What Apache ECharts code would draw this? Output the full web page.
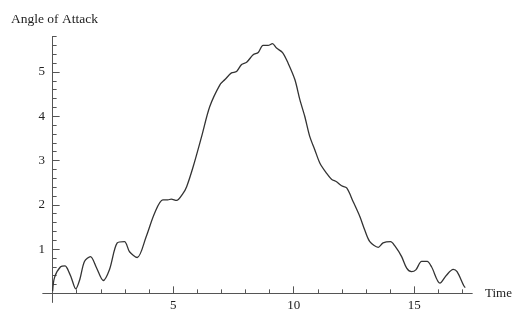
<!DOCTYPE html>
<html>
<head>
<meta charset="utf-8">
<script src="https://cdn.jsdelivr.net/npm/echarts@6/dist/echarts.min.js"></script>
<style>
    html, body { margin: 0; padding: 0; background: #fff; }
    #main { width: 514px; height: 309px; }
</style>
</head>
<body>
<div id="main"></div>
<script>
// values
let times = [0, 0.08, 0.33, 0.52, 0.60, 0.77, 0.96, 1.13, 1.32, 1.57,
    1.81, 2.10, 2.36, 2.68, 2.98, 3.19, 3.51, 3.88, 4.23, 4.57,
    4.78, 4.92, 5.14, 5.41, 5.56, 5.83, 6.18, 6.52, 6.94, 7.15,
    7.42, 7.63, 7.84, 8.05, 8.32, 8.53, 8.73, 8.94, 9.12, 9.29,
    9.54, 9.77, 10.05, 10.26, 10.46, 10.67, 10.88, 11.09, 11.37, 11.57,
    11.78, 11.99, 12.20, 12.47, 12.75, 12.95, 13.16, 13.51, 13.71, 14.02,
    14.20, 14.48, 14.69, 14.89, 15.07, 15.31, 15.54, 15.72, 16.07, 16.34,
    16.62, 16.78, 17.06, 17.12];
let angles = [0.05, 0.36, 0.60, 0.62, 0.57, 0.36, 0.10, 0.32, 0.72, 0.83,
    0.59, 0.29, 0.54, 1.14, 1.17, 0.94, 0.81, 1.28, 1.81, 2.11,
    2.11, 2.13, 2.10, 2.26, 2.41, 2.86, 3.54, 4.22, 4.71, 4.83,
    4.98, 5.01, 5.17, 5.22, 5.39, 5.44, 5.60, 5.60, 5.64, 5.54,
    5.44, 5.20, 4.83, 4.37, 4.00, 3.54, 3.24, 2.94, 2.71, 2.58,
    2.52, 2.43, 2.38, 2.07, 1.73, 1.43, 1.17, 1.04, 1.14, 1.17,
    1.07, 0.83, 0.57, 0.49, 0.53, 0.72, 0.72, 0.60, 0.23, 0.41,
    0.54, 0.49, 0.17, 0.13];

let xLabels = [5, 10, 15];
let yLabels = [1, 2, 3, 4, 5];

let xMinor = [];
for (let i = 1; i <= 17; i++) xMinor.push(i);
let yMinor = [];
for (let i = 1; i <= 29; i++) yMinor.push(Math.round(i * 2) / 10);

let points = times.map((t, i) => [t, angles[i]]);

let chartDom = document.getElementById('main');
let myChart = echarts.init(chartDom);

let font = 'Liberation Serif';
let axisColor = '#555';
let textColor = '#222';

function xAxisDef(ticks, len, labels) {
    return {
        type: 'value',
        min: -0.4,
        max: 17.4,
        position: 'bottom',
        axisLine: { onZero: true, onZeroAxisIndex: 0, lineStyle: { color: axisColor, width: 1 } },
        axisTick: { show: true, inside: true, length: len, customValues: ticks, lineStyle: { color: axisColor } },
        axisLabel: {
            show: !!labels,
            customValues: labels || [],
            margin: -3,
            color: textColor,
            fontFamily: font,
            fontSize: 13
        },
        splitLine: { show: false }
    };
}

function yAxisDef(ticks, len, labels) {
    return {
        type: 'value',
        min: -0.2,
        max: 5.8,
        position: 'left',
        axisLine: { onZero: true, onZeroAxisIndex: 0, lineStyle: { color: axisColor, width: 1 } },
        axisTick: { show: true, inside: true, length: len, customValues: ticks, lineStyle: { color: axisColor } },
        axisLabel: {
            show: !!labels,
            customValues: labels || [],
            margin: -2,
            color: textColor,
            fontFamily: font,
            fontSize: 13
        },
        splitLine: { show: false }
    };
}

let xMajor = xAxisDef(xLabels, 7, xLabels);
xMajor.name = 'Time';
xMajor.nameLocation = 'end';
xMajor.nameGap = 13;
xMajor.nameTextStyle = { color: textColor, fontFamily: font, fontSize: 13, verticalAlign: 'middle' };

let option = {
    animation: false,
    backgroundColor: '#fff',
    title: {
        text: 'Angle of Attack',
        left: 6,
        top: 7,
        textStyle: { color: textColor, fontFamily: font, fontSize: 13.5, fontWeight: 'normal' }
    },
    grid: { left: 43, right: 42, top: 36.6, bottom: 6.8, containLabel: false, outerBoundsMode: 'none' },
    xAxis: [xAxisDef(xMinor, 4, null), xMajor],
    yAxis: [yAxisDef(yMinor, 4, null), yAxisDef(yLabels, 7, yLabels)],
    series: [
        {
            type: 'line',
            data: points,
            xAxisIndex: 0,
            yAxisIndex: 0,
            smooth: 0.3,
            showSymbol: false,
            lineStyle: { color: '#333', width: 1.3 }
        }
    ]
};

myChart.setOption(option);
</script>
</body>
</html>
